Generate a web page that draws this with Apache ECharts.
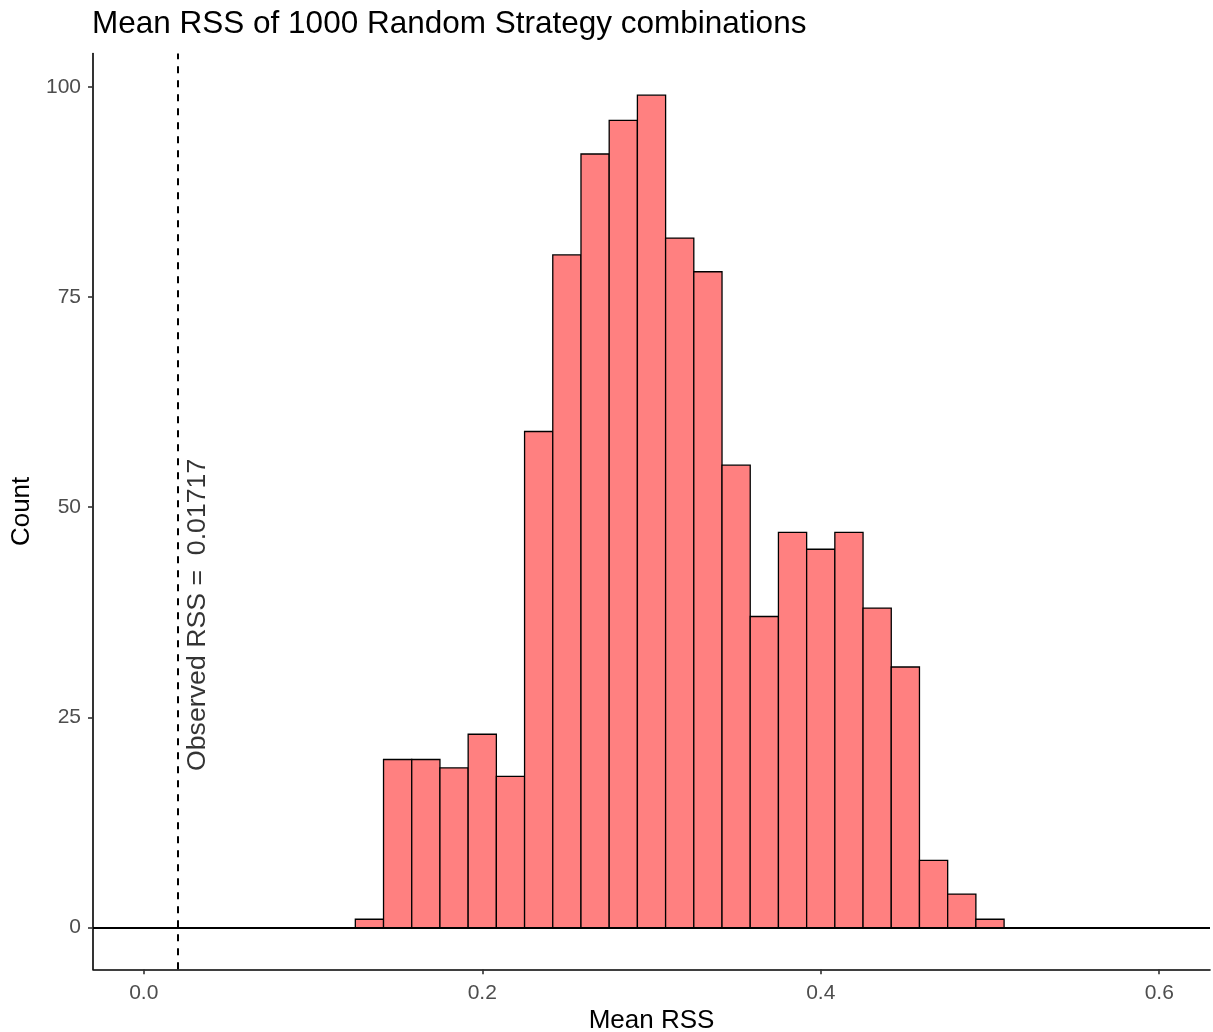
<!DOCTYPE html>
<html>
<head>
<meta charset="utf-8">
<script src="https://cdn.jsdelivr.net/npm/echarts@6/dist/echarts.min.js"></script>
<style>html,body{margin:0;padding:0;background:#fff;}#c{width:1213px;height:1032px;}</style>
</head>
<body>
<div id="c"></div>
<script>
// ---- data ----
const counts = [1, 20, 20, 19, 23, 18, 59, 80, 92, 96, 99, 82, 78, 55, 37, 47, 45, 47, 38, 31, 8, 4, 1];
const binStart = 0.125;
const binWidth = 1 / 60;
const observedRSS = 0.01717;
const annotText = 'Observed RSS =  0.01717';
const annotPos = [0.0316, 37.2];
const xTicks = [0, 0.2, 0.4, 0.6];
const yTicks = [0, 25, 50, 75, 100];
const titleText = 'Mean RSS of 1000 Random Strategy combinations';
const xName = 'Mean RSS';
const yName = 'Count';

const binData = counts.map((c, i) => [binStart + i * binWidth, binStart + (i + 1) * binWidth, c]);

const FONT = '"Liberation Sans", Arial, sans-serif';
const chart = echarts.init(document.getElementById('c'), null, {renderer: 'canvas'});
chart.setOption({
  animation: false,
  backgroundColor: '#ffffff',
  title: {
    text: titleText, left: 92, top: 8, padding: 0,
    textStyle: {fontFamily: FONT, fontSize: 31.5, fontWeight: 'normal', color: '#000'}
  },
  grid: {left: 93, right: 3, top: 53.5, bottom: 62.7, containLabel: false, outerBoundsMode: 'none'},
  xAxis: {
    type: 'value', min: -0.03, max: 0.63,
    name: xName, nameLocation: 'middle', nameGap: 36,
    nameTextStyle: {fontFamily: FONT, fontSize: 26, color: '#000'},
    axisLine: {show: true, onZero: false, lineStyle: {color: '#000', width: 1.6}},
    axisTick: {show: true, length: 5, customValues: xTicks, lineStyle: {color: '#333', width: 1.6}},
    axisLabel: {customValues: xTicks, margin: 13, fontFamily: FONT, fontSize: 21, color: '#4D4D4D',
      formatter: v => v.toFixed(1)},
    splitLine: {show: false}
  },
  yAxis: {
    type: 'value', min: -4.95, max: 103.95,
    name: yName, nameLocation: 'middle', nameGap: 58, nameRotate: 90,
    nameTextStyle: {fontFamily: FONT, fontSize: 26, color: '#000'},
    axisLine: {show: true, onZero: false, lineStyle: {color: '#000', width: 1.6}},
    axisTick: {show: true, length: 5, customValues: yTicks, lineStyle: {color: '#333', width: 1.6}},
    axisLabel: {customValues: yTicks, margin: 12, fontFamily: FONT, fontSize: 21, color: '#4D4D4D'},
    splitLine: {show: false}
  },
  series: [
    {
      type: 'custom',
      data: binData,
      encode: {x: [0, 1], y: 2},
      renderItem: function (params, api) {
        const p0 = api.coord([api.value(0), api.value(2)]);
        const p1 = api.coord([api.value(1), 0]);
        return {
          type: 'rect',
          shape: {x: p0[0], y: p0[1], width: p1[0] - p0[0], height: p1[1] - p0[1]},
          style: {fill: '#FF8080', stroke: '#000', lineWidth: 1.3}
        };
      },
      z: 2
    },
    {
      type: 'line', data: [], z: 5,
      markLine: {
        silent: true, symbol: 'none', animation: false,
        label: {show: false},
        data: [
          {yAxis: 0, lineStyle: {type: 'solid', color: '#000', width: 2}},
          {xAxis: observedRSS, lineStyle: {type: [7, 7], color: '#000', width: 2}}
        ]
      }
    },
    {
      type: 'scatter', symbolSize: 0, z: 6,
      data: [annotPos],
      label: {
        show: true, position: 'inside', rotate: 90,
        formatter: annotText,
        fontFamily: FONT, fontSize: 26.7, color: '#000'
      }
    }
  ]
});
</script>
</body>
</html>
